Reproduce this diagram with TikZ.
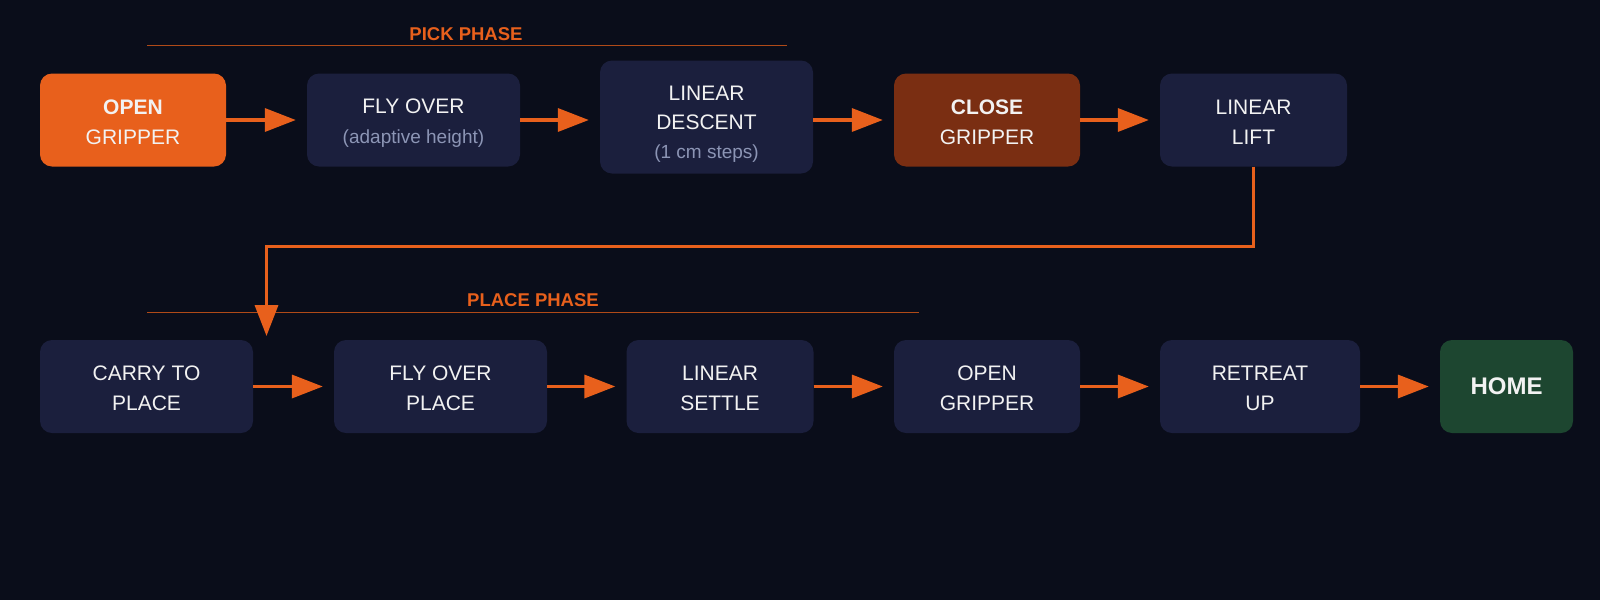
\documentclass[tikz,border=0pt]{standalone}
\usepackage{fontspec}
\setmainfont{Liberation Sans}
\usetikzlibrary{arrows.meta}
\definecolor{bg}{HTML}{0A0D1A}
\definecolor{navy}{HTML}{1B1F3D}
\definecolor{orng}{HTML}{E8601C}
\definecolor{brwn}{HTML}{7A2E12}
\definecolor{grn}{HTML}{1D4630}
\definecolor{subtx}{HTML}{8C95B5}
\definecolor{maintx}{HTML}{F2F2F2}
\definecolor{phln}{HTML}{B04A18}
\tikzset{
  box/.style={rounded corners=12pt, fill=navy, draw=none, text=maintx, align=center,
    minimum height=93pt, inner sep=0pt, font=\fontsize{21}{30}\selectfont},
  flow/.style={draw=orng, line width=3.5pt, -{Triangle[length=31pt,width=23pt]}},
  phase/.style={text=orng, font=\bfseries\fontsize{18.5}{22}\selectfont},
  phaseline/.style={draw=phln, line width=1pt},
}
\newcommand{\subt}[1]{{\fontsize{19}{28}\selectfont\color{subtx}#1}}
\newcommand{\lowr}[1]{\rule{0pt}{#1}}
\begin{document}
\begin{tikzpicture}[x=1pt,y=-1pt]
\fill[bg] (0,0) rectangle (1600,600);
\useasboundingbox (0,0) rectangle (1600,600);

% phase labels
\node[phase] (pickl) at (466,34) {PICK PHASE};
\coordinate (pk1) at (147,45.5);
\coordinate (pk2) at (787,45.5);
\draw[phaseline] (pk1) -- (pk2);
\node[phase] (placel) at (533,300) {PLACE PHASE};
\coordinate (pl1) at (147,312.5);
\coordinate (pl2) at (919,312.5);
\draw[phaseline] (pl1) -- (pl2);

% row 1
\node[box, fill=orng, minimum width=186pt] (open1) at (133,120) {\lowr{18.5pt}\textbf{OPEN}\\GRIPPER};
\node[box, minimum width=213pt] (fly1) at (413.5,120) {\lowr{20pt}FLY OVER\\\subt{(adaptive height)}};
\node[box, minimum width=213pt, minimum height=113pt, font=\fontsize{21}{29}\selectfont] (desc) at (706.5,117) {\lowr{29pt}LINEAR\\DESCENT\\\subt{(1 cm steps)}};
\node[box, fill=brwn, minimum width=186pt] (close) at (987,120) {\lowr{18.5pt}\textbf{CLOSE}\\GRIPPER};
\node[box, minimum width=187pt] (lift) at (1253.5,120) {\lowr{18.5pt}LINEAR\\LIFT};

% row 2
\node[box, minimum width=213pt] (carry) at (146.5,386.5) {\lowr{18.5pt}CARRY TO\\PLACE};
\node[box, minimum width=213pt] (fly2) at (440.5,386.5) {\lowr{18.5pt}FLY OVER\\PLACE};
\node[box, minimum width=187pt] (settle) at (720,386.5) {\lowr{18.5pt}LINEAR\\SETTLE};
\node[box, minimum width=186pt] (open2) at (987,386.5) {\lowr{18.5pt}OPEN\\GRIPPER};
\node[box, minimum width=200pt] (retreat) at (1260,386.5) {\lowr{18.5pt}RETREAT\\UP};
\node[box, fill=grn, minimum width=133pt, font=\bfseries\fontsize{24}{30}\selectfont] (home) at (1506.5,386.5) {HOME};

% arrows row 1
\draw[flow, shorten >=11pt] (open1.east) -- (fly1.west);
\draw[flow, shorten >=11pt] (fly1.east) -- (fly1.east -| desc.west);
\draw[flow, shorten >=11pt] (fly1.east -| desc.east) -- (close.west);
\draw[flow, shorten >=11pt] (close.east) -- (lift.west);

% down connector
\coordinate (turn1) at (1253.5,246.5);
\coordinate (turn2) at (266.5,246.5);
\coordinate (tipc) at (266.5,340);
\draw[flow, shorten >=4pt, miter limit=10] (lift.south) -- (turn1) -- (turn2) -- (tipc);

% arrows row 2
\draw[flow, shorten >=11pt] (carry.east) -- (fly2.west);
\draw[flow, shorten >=11pt] (fly2.east) -- (settle.west);
\draw[flow, shorten >=11pt] (settle.east) -- (open2.west);
\draw[flow, shorten >=11pt] (open2.east) -- (retreat.west);
\draw[flow, shorten >=11pt] (retreat.east) -- (home.west);
\end{tikzpicture}
\end{document}
